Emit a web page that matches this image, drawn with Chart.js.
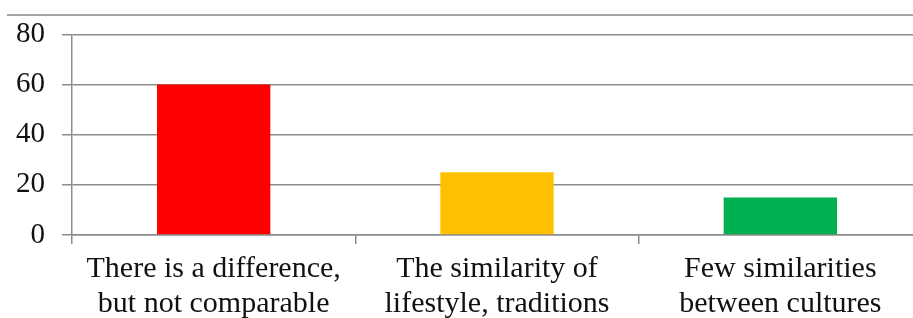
<!DOCTYPE html>
<html>
<head>
<meta charset="utf-8">
<script src="https://cdn.jsdelivr.net/npm/chart.js@4.4.1/dist/chart.umd.min.js"></script>
<style>
  html, body { margin: 0; padding: 0; background: #fff; overflow: hidden; }
  #wrap { position: relative; width: 913px; height: 318px; overflow: hidden; }
  #topline { position: absolute; left: 7px; right: 0; top: 14px; border-top: 2px solid #a6a6a6; }
  #box { position: absolute; left: 0; top: 0; width: 922px; height: 318px; }
</style>
</head>
<body>
<div id="wrap">
  <div id="topline"></div>
  <div id="box"><canvas id="chart"></canvas></div>
</div>
<script>
// Daten
const categories = [
  ['There is a difference,', 'but not comparable'],
  ['The similarity of', 'lifestyle, traditions'],
  ['Few similarities', 'between cultures']
];
const values = [60, 25, 15];
const barColors = ['#ff0000', '#ffc000', '#00b050'];
const yTicks = [0, 20, 40, 60, 80];

const gridColor = '#8c8c8c';
const font = { family: "'Liberation Serif', 'Times New Roman', serif", size: 30, lineHeight: 1.18 };

new Chart(document.getElementById('chart'), {
  type: 'bar',
  data: {
    labels: categories,
    datasets: [{
      data: values,
      backgroundColor: barColors,
      borderWidth: 0,
      barPercentage: 0.4,
      categoryPercentage: 1
    }]
  },
  options: {
    responsive: true,
    maintainAspectRatio: false,
    animation: false,
    layout: { padding: { top: 31, left: 0, right: 0, bottom: 0 } },
    plugins: { legend: { display: false }, tooltip: { enabled: false } },
    scales: {
      x: {
        grid: { display: true, drawOnChartArea: false, color: gridColor, lineWidth: 1.5, tickLength: 9, offset: true },
        border: { display: true, color: gridColor, width: 1.5 },
        ticks: { color: '#111', font: font, padding: 7, maxRotation: 0, autoSkip: false },
        afterFit: s => { s.height = 83; }
      },
      y: {
        min: 0,
        max: 80,
        afterBuildTicks: s => { s.ticks = yTicks.map(v => ({ value: v })); },
        grid: { color: gridColor, lineWidth: 1.5, tickLength: 10 },
        border: { display: true, color: gridColor, width: 1.5 },
        ticks: { color: '#111', font: { family: font.family, size: 29 }, padding: 17 },
        afterFit: s => { s.width = 72; }
      }
    }
  }
});
</script>
</body>
</html>
